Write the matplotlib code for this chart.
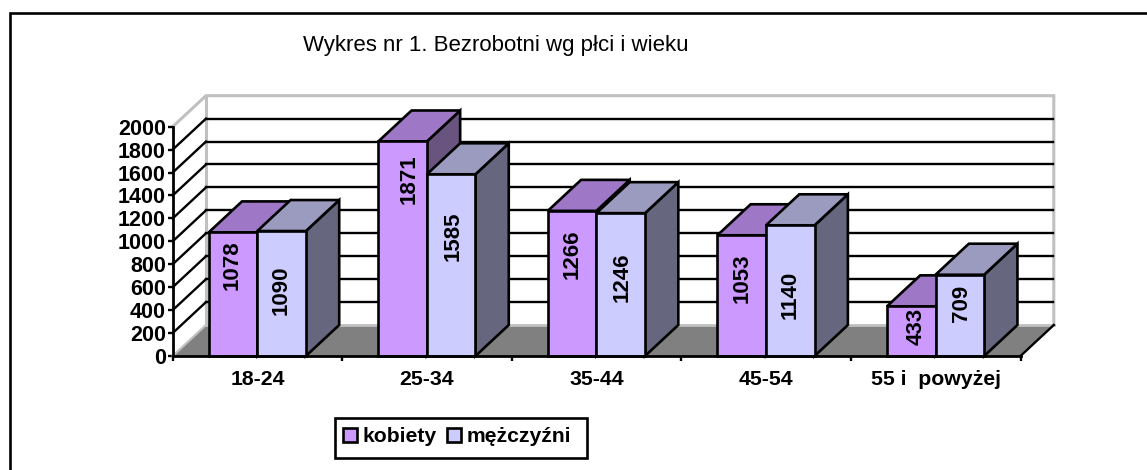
import matplotlib
matplotlib.use("Agg")
import matplotlib.pyplot as plt
from matplotlib.patches import Polygon, Rectangle
from matplotlib.lines import Line2D

plt.rcParams['font.family'] = ['Liberation Sans', 'DejaVu Sans']

categories = ['18-24', '25-34', '35-44', '45-54', '55 i  powyżej']
kobiety = [1078, 1871, 1266, 1053, 433]
mezczyzni = [1090, 1585, 1246, 1140, 709]
y_ticks = list(range(0, 2001, 200))
# where the data labels sit along the bars (value units)
label_y_k = [795, 1540, 890, 680, 260]
label_y_m = [575, 1045, 690, 530, 460]
# sideways shift of the data labels from the bar centre (pixels)
label_dx_k = [-1, 7, 0, 0, 5]
label_dx_m = [0, 2, 1, 0, 2]

W, H = 1147, 470
fig = plt.figure(figsize=(W / 100, H / 100), dpi=100, facecolor='white')
L, R, T, B = 172.7, 1020.5, 126.7, 356
ax = fig.add_axes([L / W, 1 - B / H, (R - L) / W, (B - T) / H])
ax.set_xlim(0, 5)
ax.set_ylim(0, 2000)
ax.patch.set_visible(False)

# depth of the 3D box, expressed in data units
PX = (R - L) / 5
DX = 33.3 / PX
DY = 31 / ((B - T) / 2000)
BAR_W = 48.6 / PX
GAP = 36 / PX
EDGE = 'black'
LW = 1.9


def poly(pts, fc, ec=EDGE, lw=LW, z=3):
    ax.add_patch(Polygon(pts, closed=True, fc=fc, ec=ec, lw=lw, zorder=z,
                         clip_on=False, joinstyle='miter'))


# walls and floor
grey = '#c0c0c0'
ax.plot([0, DX, 5 + DX, 5 + DX], [2000, 2000 + DY, 2000 + DY, DY],
        color=grey, lw=2.2, clip_on=False, zorder=1, solid_joinstyle='miter')
ax.plot([DX, DX], [DY, 2000 + DY], color=grey, lw=2.2, clip_on=False, zorder=1)
poly([(0, 0), (5, 0), (5 + DX, DY), (DX, DY)], '#808080', ec='none', lw=0, z=1.5)
ax.plot([DX, 5 + DX], [DY, DY], color=grey, lw=2, clip_on=False, zorder=1.6)
ax.plot([0, DX], [0, DY], color=grey, lw=1.6, clip_on=False, zorder=1.6)
ax.plot([5, 5 + DX], [0, DY], color='black', lw=1.7, clip_on=False, zorder=1.6)

# gridlines on the back wall and the left wall
for v in y_ticks[1:-1]:
    ax.plot([DX, 5 + DX - 0.005], [v + DY, v + DY], color='black', lw=1.7,
            clip_on=False, zorder=1.2)
    ax.plot([0, DX], [v, v + DY], color='black', lw=1.7, clip_on=False, zorder=1.2)

# bars
series = [(kobiety, '#cc99ff', '#9e77c6', '#69547f', label_y_k, label_dx_k),
          (mezczyzni, '#ccccff', '#9b9bc0', '#66667f', label_y_m, label_dx_m)]
for i in range(len(categories)):
    for j, (vals, front, top, side, ly, ldx) in enumerate(series):
        x0 = i + GAP + j * BAR_W
        x1 = x0 + BAR_W
        v = vals[i]
        z = 3 + i + 0.1 * j
        poly([(x1, 0), (x1 + DX, DY), (x1 + DX, v + DY), (x1, v)], side, z=z)
        poly([(x0, v), (x1, v), (x1 + DX, v + DY), (x0 + DX, v + DY)], top, z=z)
        poly([(x0, 0), (x1, 0), (x1, v), (x0, v)], front, z=z + 0.01)
        ax.text(x0 + BAR_W / 2 + ldx[i] / PX, ly[i], str(v), rotation=90, ha='center', va='center',
                fontsize=16, fontweight='bold', color='black', zorder=z + 0.02)

# axes
for s in ('top', 'right'):
    ax.spines[s].set_visible(False)
for s in ('left', 'bottom'):
    ax.spines[s].set_linewidth(2.0)
    ax.spines[s].set_zorder(20)
ax.set_yticks(y_ticks)
ax.set_yticklabels([str(v) for v in y_ticks], fontsize=15.5, fontweight='bold')
ax.set_xticks(range(6))
ax.set_xticklabels([])
ax.tick_params(axis='both', length=3.5, width=1.7, pad=1.5)
for i, c in enumerate(categories):
    ax.annotate(c, (i + 0.5, 0), xytext=(0, -14), textcoords='offset pixels',
                ha='center', va='top', fontsize=15.3, fontweight='bold', annotation_clip=False)

# outer frame: only the top and left edges are visible in the reference
fig.add_artist(Line2D([9.5 / W, 9.5 / W, 1 ], [0, 1 - 12.5 / H, 1 - 12.5 / H],
                      transform=fig.transFigure, color='black', lw=1.9,
                      solid_joinstyle='miter'))

fig.text(303 / W, 1 - 45 / H, 'Wykres nr 1. Bezrobotni wg płci i wieku',
         fontsize=16, va='center', ha='left')

# legend
fig.add_artist(Rectangle((334.5 / W, 1 - 458 / H), 252 / W, 40 / H, transform=fig.transFigure,
                         fc='white', ec='black', lw=1.9))
for x, fc, txt in [(343, '#cc99ff', 'kobiety'), (447, '#ccccff', 'mężczyźni')]:
    fig.add_artist(Rectangle((x / W, 1 - 442 / H), 14 / W, 14 / H, transform=fig.transFigure,
                             fc=fc, ec='black', lw=1.9))
    fig.text((x + 20) / W, 1 - 437 / H, txt, fontsize=15.2, fontweight='bold', va='center', ha='left')

fig.savefig('out.png', dpi=100)
